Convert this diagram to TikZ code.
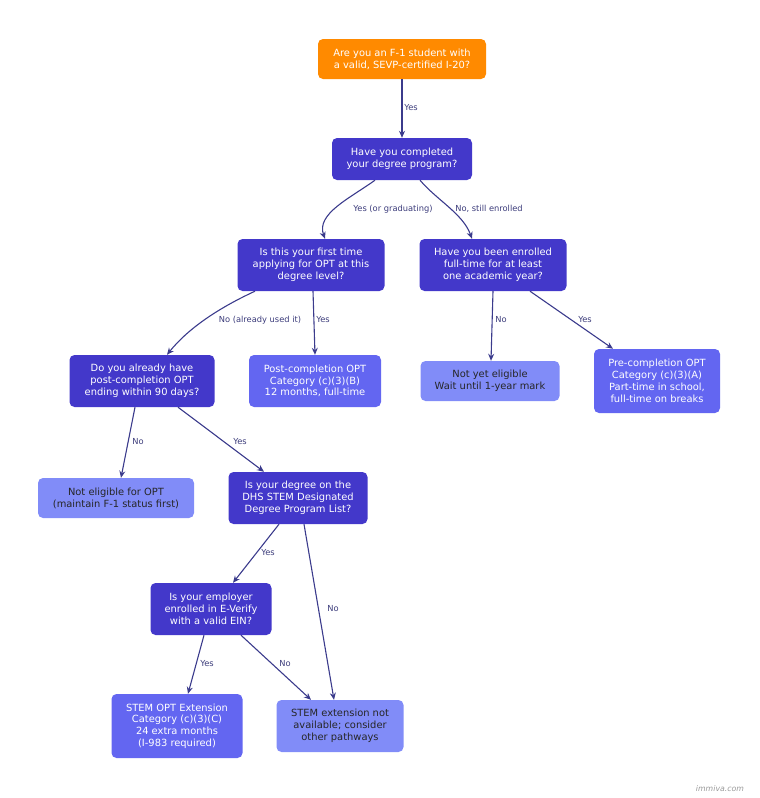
\documentclass[tikz,border=0pt]{standalone}
\usepackage{fontspec}
\setmainfont{DejaVu Sans}
\usetikzlibrary{calc,arrows.meta}
\definecolor{cor}{HTML}{FF8A00}
\definecolor{cdk}{HTML}{4338CA}
\definecolor{cmd}{HTML}{6366F1}
\definecolor{clt}{HTML}{818CF8}
\definecolor{cedge}{HTML}{3B3B8C}
\definecolor{clab}{HTML}{3B3B7A}
\begin{document}
\begin{tikzpicture}[x=1pt,y=-1pt,
  box/.style={rounded corners=5pt,align=center,inner sep=0pt,font=\fontsize{9.9}{11.8}\selectfont},
  dk/.style={box,fill=cdk,text=white},
  md/.style={box,fill=cmd,text=white},
  lt/.style={box,fill=clt,text=black!85},
  ar/.style={draw=cedge,line width=1.1pt,-{Stealth[length=7pt,width=6pt]}},
  lab/.style={font=\fontsize{8.3}{9}\selectfont,text=clab,inner sep=1pt}]
\useasboundingbox (0,0) rectangle (760,798);
\node[box,fill=cor,text=white,minimum width=168,minimum height=40] (q1) at (402,59) {Are you an F-1 student with\\a valid, SEVP-certified I-20?};
\node[dk,minimum width=140,minimum height=42] (q2) at (402,159) {Have you completed\\your degree program?};
\node[dk,minimum width=147,minimum height=52] (q3) at (311,265) {Is this your first time\\applying for OPT at this\\degree level?};
\node[dk,minimum width=147,minimum height=52] (q4) at (493,265) {Have you been enrolled\\full-time for at least\\one academic year?};
\node[dk,minimum width=145,minimum height=52] (q5) at (142,381) {Do you already have\\post-completion OPT\\ending within 90 days?};
\node[md,minimum width=132,minimum height=52] (r1) at (315,381) {Post-completion OPT\\Category (c)(3)(B)\\12 months, full-time};
\node[lt,minimum width=139,minimum height=40] (r2) at (490,381) {Not yet eligible\\Wait until 1-year mark};
\node[md,minimum width=126,minimum height=64] (r3) at (657,381) {Pre-completion OPT\\Category (c)(3)(A)\\Part-time in school,\\full-time on breaks};
\node[lt,minimum width=156,minimum height=40] (r4) at (116,498) {Not eligible for OPT\\(maintain F-1 status first)};
\node[dk,minimum width=139,minimum height=52] (q6) at (298,498) {Is your degree on the\\DHS STEM Designated\\Degree Program List?};
\node[dk,minimum width=121,minimum height=52] (q7) at (211,609) {Is your employer\\enrolled in E-Verify\\with a valid EIN?};
\node[md,minimum width=131,minimum height=64] (r5) at (177,726) {STEM OPT Extension\\Category (c)(3)(C)\\24 extra months\\(I-983 required)};
\node[lt,minimum width=127,minimum height=52] (r6) at (340,726) {STEM extension not\\available; consider\\other pathways};
\node[font=\itshape\fontsize{7.8}{9}\selectfont,text=black!40] (ft) at (720,789) {immiva.com};

\draw[ar] (q1.south) -- (q2.north);
\draw[ar] ($(q2.south)+(-27,0)$) .. controls ($(q2.south)+(-52,18)$) and ($(q3.north)+(5,-25)$) .. ($(q3.north)+(14,0)$);
\draw[ar] ($(q2.south)+(18,0)$) .. controls ($(q2.south)+(35,20)$) and ($(q4.north)+(-30,-25)$) .. ($(q4.north)+(-21,0)$);
\draw[ar] ($(q3.south)+(-56,0)$) .. controls ($(q3.south)+(-95,18)$) and ($(q5.north)+(45,-25)$) .. ($(q5.north)+(25,0)$);
\draw[ar] ($(q3.south)+(2,0)$) -- (r1.north);
\draw[ar] (q4.south) -- ($(r2.north)+(1,0)$);
\draw[ar] ($(q4.south)+(37,0)$) -- ($(r3.north)+(-44,0)$);
\draw[ar] ($(q5.south)+(-7,0)$) -- ($(r4.north)+(5,0)$);
\draw[ar] ($(q5.south)+(36,0)$) -- ($(q6.north)+(-34,0)$);
\draw[ar] ($(q6.south)+(-19,0)$) -- ($(q7.north)+(22,0)$);
\draw[ar] ($(q6.south)+(6,0)$) -- ($(r6.north)+(-6,0)$);
\draw[ar] ($(q7.south)+(-7,0)$) -- ($(r5.north)+(11,0)$);
\draw[ar] ($(q7.south)+(30,0)$) -- ($(r6.north)+(-29,0)$);

\node[lab] (l1) at (411,108) {Yes};
\node[lab] (l2) at (393,209) {Yes (or graduating)};
\node[lab] (l3) at (489,209) {No, still enrolled};
\node[lab] (l4) at (260,320) {No (already used it)};
\node[lab] (l5) at (323,320) {Yes};
\node[lab] (l6) at (501,320) {No};
\node[lab] (l7) at (585,320) {Yes};
\node[lab] (l8) at (138,442) {No};
\node[lab] (l9) at (240,442) {Yes};
\node[lab] (l10) at (268,553) {Yes};
\node[lab] (l11) at (333,609) {No};
\node[lab] (l12) at (207,664) {Yes};
\node[lab] (l13) at (285,664) {No};
\end{tikzpicture}
\end{document}
